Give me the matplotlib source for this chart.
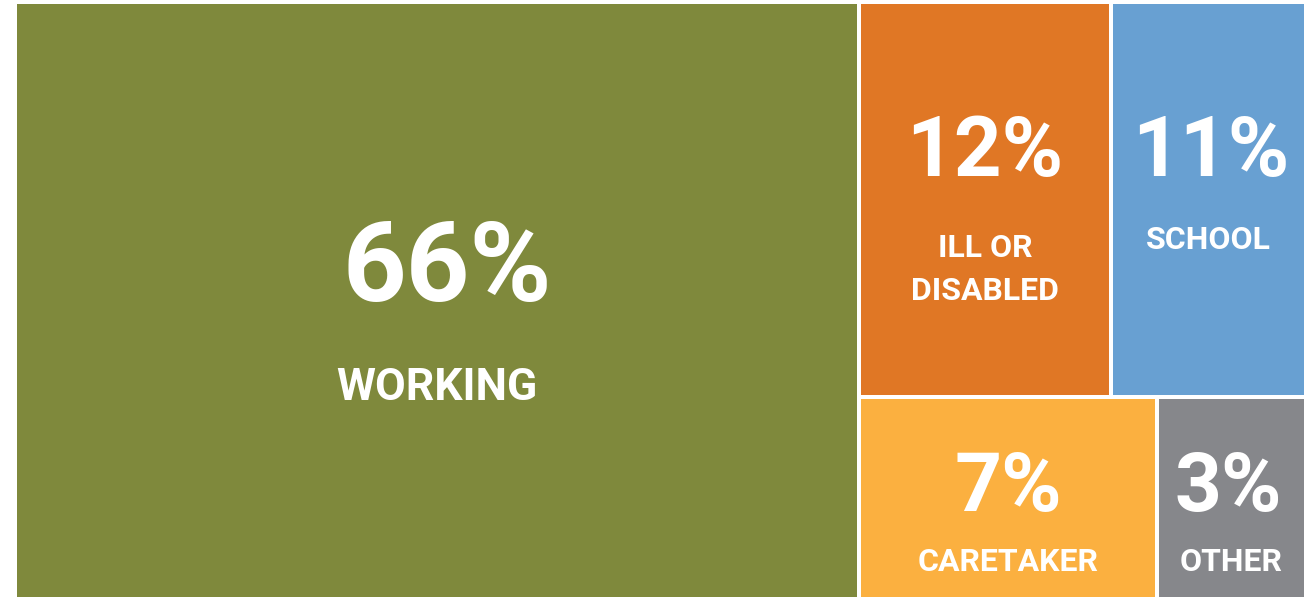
import matplotlib.pyplot as plt
from matplotlib.patches import Rectangle

# treemap data
categories = ['WORKING', 'ILL OR\nDISABLED', 'SCHOOL', 'CARETAKER', 'OTHER']
shares = [66, 12, 11, 7, 3]
tile_size = [65.4, 12.9, 10.0, 7.8, 3.9]   # relative tile areas as drawn
colors = ['#7F893C', '#E07725', '#68A0D2', '#FBB040', '#86878B']

plt.rcParams['font.family'] = ['Roboto', 'DejaVu Sans']

fig = plt.figure(figsize=(13.04, 5.97), dpi=100)
ax = fig.add_axes([0, 0, 1, 1])
ax.set_xlim(0, 1304)
ax.set_ylim(597, 0)
ax.axis('off')

# layout: big tile on the left, 2x2 style split on the right
gap = 4
x0, y0, W, H = 17 - gap / 2, 4 - gap / 2, 1287 + gap, 593 + gap
a = tile_size
tot = sum(a)
wl = W * a[0] / tot
wr = W - wl
ht = H * (a[1] + a[2]) / sum(a[1:])
hb = H - ht
w1 = wr * a[1] / (a[1] + a[2])
w3 = wr * a[3] / (a[3] + a[4])
cells = [
    (x0, y0, wl, H),
    (x0 + wl, y0, w1, ht),
    (x0 + wl + w1, y0, wr - w1, ht),
    (x0 + wl, y0 + ht, w3, hb),
    (x0 + wl + w3, y0 + ht, wr - w3, hb),
]

# number size, label size, number x shift, number baseline / label baseline (fraction of tile height)
style = [
    (80, 32, 10, 0.50, 0.667),
    (60, 23, 0, 0.44, 0.755),
    (60, 23, 2, 0.44, 0.625),
    (59, 23, 0, 0.565, 0.86),
    (59, 23, -3, 0.565, 0.86),
]

for i, (x, y, w, h) in enumerate(cells):
    ax.add_patch(Rectangle((x + gap / 2, y + gap / 2), w - gap, h - gap,
                           facecolor=colors[i], edgecolor='none'))
    ns, ls, dx, ny, ly = style[i]
    cx = x + w / 2
    ax.text(cx + dx, y + ny * h, f'{shares[i]}%', color='white', fontsize=ns,
            fontweight='bold', ha='center', va='baseline')
    ax.text(cx, y + ly * h, categories[i], color='white', fontsize=ls,
            fontweight='bold', ha='center', va='baseline', linespacing=1.55,
            multialignment='center')

fig.savefig('out.png', dpi=100)
